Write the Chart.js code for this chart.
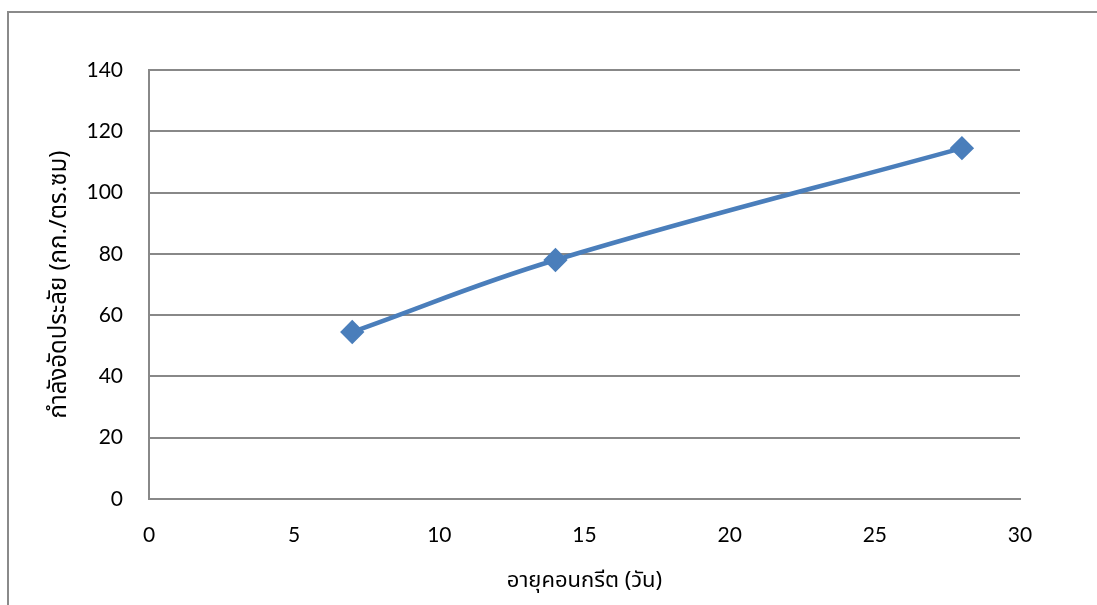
<!DOCTYPE html>
<html>
<head>
<meta charset="utf-8">
<script src="https://cdn.jsdelivr.net/npm/chart.js@4.4.0/dist/chart.umd.min.js"></script>
<style>
  html, body { margin: 0; padding: 0; background: #fff; overflow: hidden; }
  #frame { position: absolute; left: 7px; top: 11px; width: 1200px; height: 700px; border: 2px solid #8a8a8a; box-sizing: border-box; }
  #myChart { position: absolute; left: 0; top: 0; }
</style>
</head>
<body>
<div id="frame"></div>
<canvas id="myChart" width="1097" height="605"></canvas>
<script>
// concrete age (days) vs compressive strength (ksc)
var ageDays = [7, 14, 28];
var strength = [54.5, 78.0, 114.5];
var xTicks = [0, 5, 10, 15, 20, 25, 30];
var yTicks = [0, 20, 40, 60, 80, 100, 120, 140];

var points = ageDays.map(function (d, i) { return {x: d, y: strength[i]}; });
var tickFont = {family: "Lato, 'Noto Sans', sans-serif", size: 21};
var titleFont = {family: "'Noto Sans Thai', 'Noto Sans', Tahoma, sans-serif", size: 22};
var yTitleFont = {family: "'Noto Sans Thai', 'Noto Sans', Tahoma, sans-serif", size: 24};
var gridColor = "#888888";

new Chart("myChart", {
  type: "scatter",
  data: {
    datasets: [{
      data: points,
      showLine: true,
      tension: 0.4,
      borderColor: "#4a7ebb",
      backgroundColor: "#4a7ebb",
      borderWidth: 4.5,
      pointStyle: "rectRot",
      pointRadius: 9,
      pointHoverRadius: 9
    }]
  },
  options: {
    responsive: false,
    animation: false,
    layout: {padding: {top: 70, right: 77, left: 0, bottom: 0}},
    plugins: {legend: {display: false}, tooltip: {enabled: false}},
    scales: {
      x: {
        type: "linear",
        min: 0, max: 30,
        afterBuildTicks: function (s) { s.ticks = xTicks.map(function (v) { return {value: v}; }); },
        afterFit: function (s) { s.height = 106; },
        grid: {display: false, drawTicks: false},
        border: {display: true, color: gridColor, width: 2},
        ticks: {color: "#000", font: tickFont, padding: 24},
        title: {display: true, text: "อายุคอนกรีต (วัน)", color: "#000", font: titleFont, padding: {top: 0, bottom: 9}}
      },
      y: {
        min: 0, max: 140,
        afterBuildTicks: function (s) { s.ticks = yTicks.map(function (v) { return {value: v}; }); },
        afterFit: function (s) { s.width = 149; },
        grid: {color: gridColor, lineWidth: 2, drawTicks: false},
        border: {display: true, color: gridColor, width: 2},
        ticks: {color: "#000", font: tickFont, padding: 26},
        title: {display: true, text: "กำลังอัดประลัย (กก./ตร.ซม)", color: "#000", font: yTitleFont, padding: {top: 47, bottom: 0}}
      }
    }
  }
});
</script>
</body>
</html>
